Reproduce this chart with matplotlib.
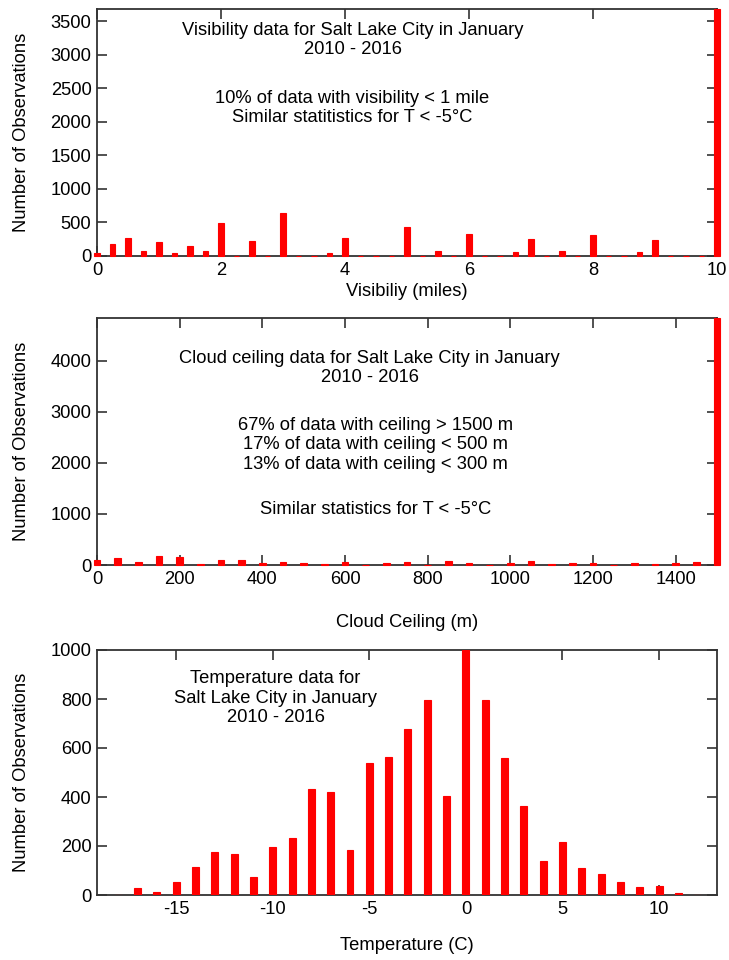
import numpy as np
import matplotlib.pyplot as plt

plt.rcParams['font.family'] = ['Liberation Sans', 'DejaVu Sans']
plt.rcParams['axes.unicode_minus'] = False

# visibility histogram (miles, 0.25 bins)
vis_bins = np.arange(0, 10.01, 0.25)
vis_known = {0.0: 50, 0.25: 172, 0.5: 268, 0.75: 76, 1.0: 207, 1.25: 50,
             1.5: 152, 1.75: 81, 2.0: 490, 2.5: 217, 3.0: 636, 3.75: 50,
             4.0: 263, 5.0: 439, 5.5: 71, 6.0: 329, 6.75: 61, 7.0: 253,
             7.5: 70, 8.0: 313, 8.75: 61, 9.0: 242, 10.0: 3680}
vis_counts = [vis_known.get(round(b, 2), 0) for b in vis_bins]

# cloud ceiling histogram (m, 50 m bins)
ceil_bins = np.arange(0, 1501, 50)
ceil_counts = [98, 131, 60, 183, 150, 20, 105, 105, 39, 59, 33, 13, 59, 5,
               39, 65, 0, 72, 46, 8, 33, 72, 20, 46, 46, 8, 46, 20, 46, 65,
               4840]

# temperature histogram (deg C)
temp_bins = np.arange(-18, 13)
temp_counts = [2, 30, 13, 55, 113, 174, 169, 72, 197, 234, 433, 420, 185,
               539, 563, 678, 796, 404, 1000, 796, 559, 362, 140, 218, 112,
               85, 54, 31, 38, 9, 2]

W, H = 729, 960
fig = plt.figure(figsize=(W / 100, H / 100), dpi=100)
fs = 13.2


def make_ax(left, top, right, bottom):
    return fig.add_axes([left / W, 1 - bottom / H, (right - left) / W, (bottom - top) / H])


def style(ax):
    for s in ax.spines.values():
        s.set_linewidth(1.3)
        s.set_color('#333333')
    ax.tick_params(direction='in', length=7, width=1.2, labelsize=fs,
                   top=True, right=True, color='#333333', pad=4)


red = '#ff0000'

# top panel
ax1 = make_ax(97, 9, 717, 256)
ax1.bar(vis_bins, vis_counts, width=0.09, color=red, edgecolor=red,
        linewidth=0.8, clip_on=False, zorder=3)
ax1.set_xlim(0, 10)
ax1.set_ylim(0, 3680)
ax1.set_xticks(np.arange(0, 11, 2))
ax1.set_yticks(np.arange(0, 3501, 500))
ax1.set_xlabel('Visibiliy (miles)', fontsize=fs, labelpad=3)
ax1.set_ylabel('Number of Observations', fontsize=fs, labelpad=15)
style(ax1)
ax1.text(4.13, 3220, 'Visibility data for Salt Lake City in January\n2010 - 2016',
         ha='center', va='center', fontsize=fs, linespacing=1.2)
ax1.text(4.11, 2205, '10% of data with visibility < 1 mile\nSimilar statitistics for T < -5°C',
         ha='center', va='center', fontsize=fs, linespacing=1.2)

# middle panel
ax2 = make_ax(97, 318, 717, 565)
ax2.bar(ceil_bins, ceil_counts, width=16, color=red, edgecolor=red,
        linewidth=0.8, clip_on=False, zorder=3)
ax2.set_xlim(0, 1500)
ax2.set_ylim(0, 4840)
ax2.set_xticks(np.arange(0, 1401, 200))
ax2.set_yticks(np.arange(0, 4001, 1000))
ax2.set_xlabel('Cloud Ceiling (m)', fontsize=fs, labelpad=19)
ax2.set_ylabel('Number of Observations', fontsize=fs, labelpad=15)
style(ax2)
ax2.text(660, 3863, 'Cloud ceiling data for Salt Lake City in January\n2010 - 2016',
         ha='center', va='center', fontsize=fs, linespacing=1.2)
ax2.text(673, 2353, '67% of data with ceiling > 1500 m\n17% of data with ceiling < 500 m\n'
         '13% of data with ceiling < 300 m',
         ha='center', va='center', fontsize=fs, linespacing=1.2)
ax2.text(673, 1078, 'Similar statistics for T < -5°C',
         ha='center', va='center', fontsize=fs)

# bottom panel
ax3 = make_ax(97, 650, 717, 895)
ax3.bar(temp_bins, temp_counts, width=0.36, color=red, edgecolor=red,
        linewidth=0.8, zorder=3)
ax3.set_xlim(-19.1, 13)
ax3.set_ylim(0, 1000)
ax3.set_xticks(np.arange(-15, 11, 5))
ax3.set_yticks(np.arange(0, 1001, 200))
ax3.set_xlabel('Temperature (C)', fontsize=fs, labelpad=14)
ax3.set_ylabel('Number of Observations', fontsize=fs, labelpad=15)
style(ax3)
ax3.text(-9.85, 804, 'Temperature data for\nSalt Lake City in January\n2010 - 2016',
         ha='center', va='center', fontsize=fs, linespacing=1.2)

fig.savefig('out.png', dpi=100)
